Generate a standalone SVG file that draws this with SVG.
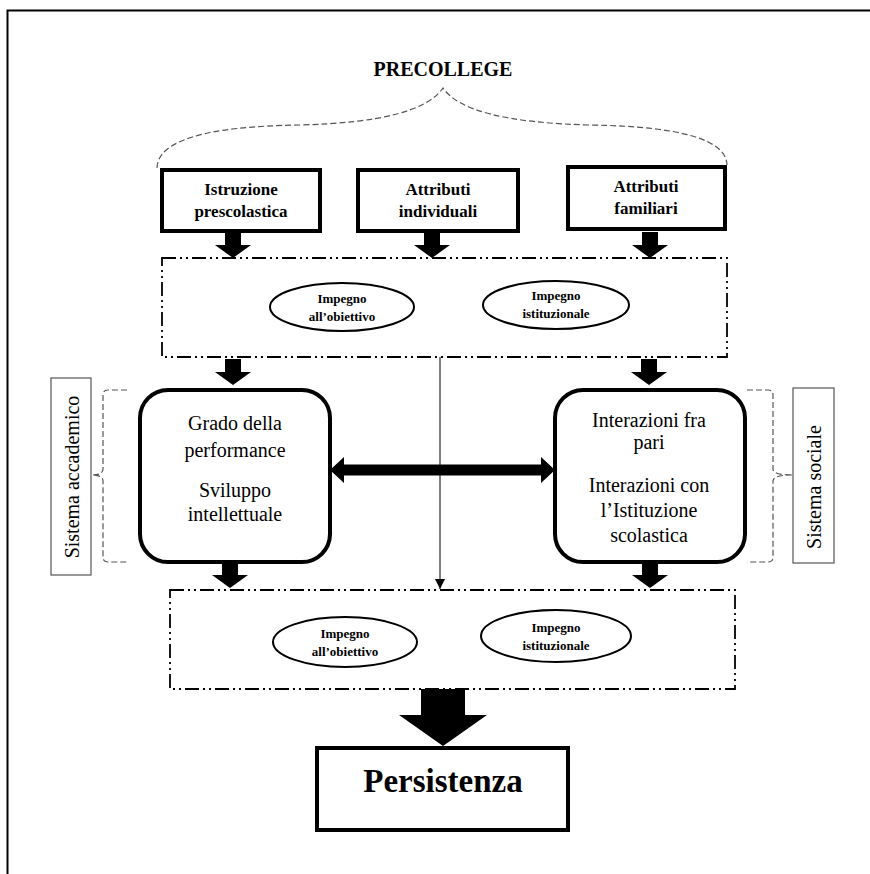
<svg xmlns="http://www.w3.org/2000/svg" width="870" height="874" viewBox="0 0 870 874">
<style>
.frame{fill:none;stroke:#000;stroke-width:2}
.box{fill:#fff;stroke:#000;stroke-width:4}
.rbox{fill:#fff;stroke:#000;stroke-width:4}
.dd{fill:none;stroke:#000;stroke-width:1.8;stroke-dasharray:14 4 2 4 2 4}
.ell{fill:#fff;stroke:#000;stroke-width:2}
.brace{fill:none;stroke:#555;stroke-width:1.2;stroke-dasharray:6 3}
.lbl{fill:#fff;stroke:#555;stroke-width:1.2}
.arr{fill:#000}
.tb{font-family:"Liberation Serif","Times New Roman",serif;font-weight:bold;font-size:17px;text-anchor:middle;fill:#000}
.te{font-family:"Liberation Serif","Times New Roman",serif;font-weight:bold;font-size:13px;text-anchor:middle;fill:#000}
.tr{font-family:"Liberation Serif","Times New Roman",serif;font-size:20px;text-anchor:middle;fill:#000}
</style>
<defs>
<marker id="thin" viewBox="0 0 10 10" refX="10" refY="5" markerWidth="10" markerHeight="10" markerUnits="userSpaceOnUse" orient="auto">
<path d="M0,0 L10,5 L0,10 z" fill="#000"/>
</marker>
<path id="blk" d="M-8,0 L8,0 L8,13 L18,13 L0,26 L-18,13 L-8,13 z"/>
</defs>
<rect width="870" height="874" fill="#fff"/>
<path class="frame" d="M7.5,874 L7.5,10.5 L870,10.5"/>

<g id="precollege">
<text x="443" y="76" class="tb" style="font-size:20px">PRECOLLEGE</text>
<path class="brace" d="M157,168 Q158,127 300,125 Q420,122 443,88 Q466,122 590,125 Q726,127 727,165"/>
</g>

<g id="connectors">
<use href="#blk" class="arr" x="233" y="232"/>
<use href="#blk" class="arr" x="432" y="232"/>
<use href="#blk" class="arr" x="650" y="232"/>
<use href="#blk" class="arr" x="233" y="359"/>
<use href="#blk" class="arr" x="649" y="359"/>
<use href="#blk" class="arr" x="230" y="562"/>
<use href="#blk" class="arr" x="650" y="562"/>
<line x1="440" y1="357" x2="440" y2="589" stroke="#000" stroke-width="1" marker-end="url(#thin)"/>
<path class="arr" d="M330,470 L344,457 L344,464.5 L541,464.5 L541,457 L555,470 L541,483 L541,475.5 L344,475.5 L344,483 z"/>
<path class="arr" d="M421,689 L465,689 L465,715 L487,715 L443,746 L399,715 L421,715 z"/>
</g>

<g id="istruzione">
<rect class="box" x="162" y="170" width="158" height="61"/>
<text x="241" y="195" class="tb">Istruzione</text>
<text x="241" y="217" class="tb">prescolastica</text>
</g>
<g id="attributi-individuali">
<rect class="box" x="358" y="170" width="160" height="61"/>
<text x="438" y="195" class="tb">Attributi</text>
<text x="438" y="217" class="tb">individuali</text>
</g>
<g id="attributi-familiari">
<rect class="box" x="568" y="167" width="157" height="62"/>
<text x="646" y="192" class="tb">Attributi</text>
<text x="646" y="214" class="tb">familiari</text>
</g>

<g id="impegni-1">
<rect class="dd" x="162" y="258" width="565" height="99"/>
<ellipse class="ell" cx="342" cy="307" rx="72" ry="24"/>
<text x="342" y="303" class="te">Impegno</text>
<text x="342" y="321" class="te">all’obiettivo</text>
<ellipse class="ell" cx="556" cy="305" rx="73" ry="24"/>
<text x="556" y="300" class="te">Impegno</text>
<text x="556" y="318" class="te">istituzionale</text>
</g>

<g id="sistema-accademico">
<rect class="lbl" x="51" y="378" width="40" height="197"/>
<text transform="translate(79,477) rotate(-90)" class="tr">Sistema accademico</text>
<path class="brace" d="M127,390 L108,390 Q103,390 103,395 L103,469 Q103,475 92,475 Q103,475 103,481 L103,557 Q103,562 108,562 L127,562"/>
</g>

<g id="grado">
<rect class="rbox" x="140" y="390" width="190" height="172" rx="28"/>
<text x="235" y="430" class="tr">Grado della</text>
<text x="235" y="457" class="tr">performance</text>
<text x="235" y="497" class="tr">Sviluppo</text>
<text x="235" y="521" class="tr">intellettuale</text>
</g>

<g id="interazioni">
<rect class="rbox" x="555" y="390" width="190" height="172" rx="28"/>
<text x="649" y="427" class="tr">Interazioni fra</text>
<text x="649" y="449" class="tr">pari</text>
<text x="649" y="492" class="tr">Interazioni con</text>
<text x="649" y="517" class="tr">l’Istituzione</text>
<text x="649" y="542" class="tr">scolastica</text>
</g>

<g id="sistema-sociale">
<rect class="lbl" x="793" y="388" width="41" height="175"/>
<text transform="translate(821,487) rotate(-90)" class="tr">Sistema sociale</text>
<path class="brace" d="M747,390 L768,390 Q773,390 773,395 L773,469 Q773,475 793,475 Q773,475 773,481 L773,557 Q773,562 768,562 L747,562"/>
</g>

<g id="impegni-2">
<rect class="dd" x="170" y="590" width="565" height="99"/>
<ellipse class="ell" cx="345" cy="642" rx="72" ry="25"/>
<text x="345" y="638" class="te">Impegno</text>
<text x="345" y="656" class="te">all’obiettivo</text>
<ellipse class="ell" cx="556" cy="636" rx="75" ry="26"/>
<text x="556" y="632" class="te">Impegno</text>
<text x="556" y="650" class="te">istituzionale</text>
</g>

<g id="persistenza">
<rect class="box" x="317" y="748" width="251" height="82"/>
<text x="443" y="792" class="tb" style="font-size:33px">Persistenza</text>
</g>
</svg>
